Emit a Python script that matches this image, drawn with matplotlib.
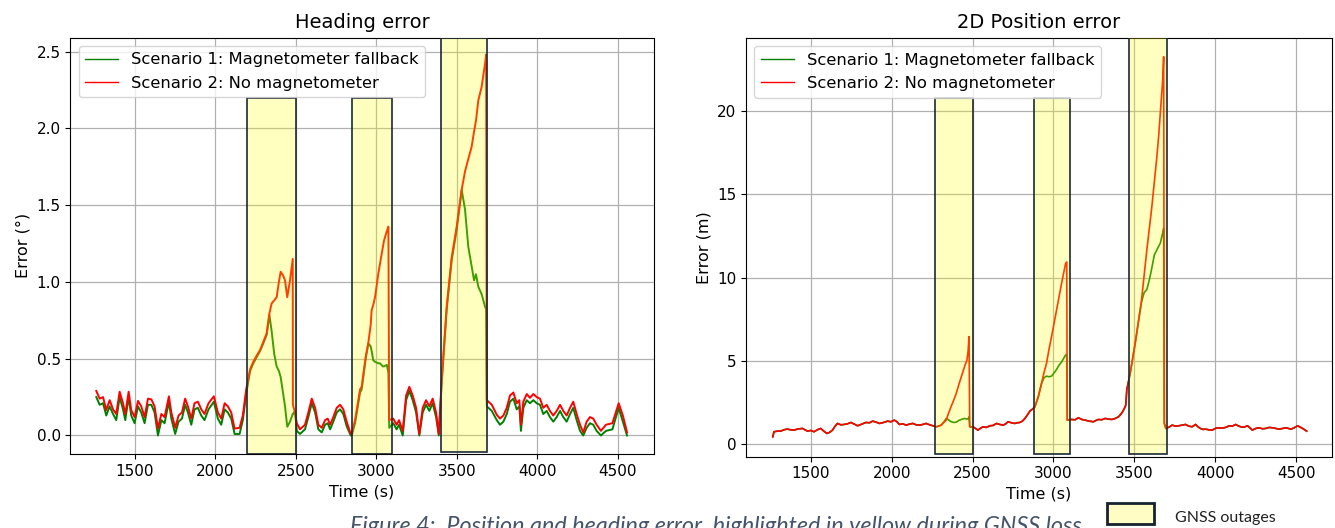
import numpy as np
import matplotlib
matplotlib.use("Agg")
import matplotlib.pyplot as plt
from matplotlib.patches import Rectangle
from matplotlib.lines import Line2D

# ---------------- Heading error (deg) ----------------
head_t = [
    1261, 1282, 1303, 1323, 1344, 1365, 1385, 1406, 1427, 1441, 1462, 1478, 1499, 1520, 1540,
    1561, 1582, 1603, 1623, 1644, 1665, 1685, 1712, 1727, 1751, 1772, 1793, 1813, 1830, 1851,
    1871, 1892, 1913, 1933, 1958, 1991, 2016, 2037, 2058, 2078, 2099, 2120, 2151, 2171, 2192,
    2216, 2236, 2257, 2278, 2298, 2319, 2336, 2350, 2366, 2381, 2395, 2406, 2422, 2433, 2447,
    2464, 2481, 2482, 2495, 2506, 2526, 2557, 2578, 2599, 2620, 2640, 2661, 2682, 2698, 2713,
    2733, 2754, 2775, 2795, 2816, 2841, 2847, 2868, 2878, 2899, 2909, 2934, 2950, 2965, 2971,
    2981, 2992, 3012, 3023, 3040, 3048, 3065, 3075, 3080, 3105, 3126, 3141, 3164, 3185, 3205,
    3226, 3247, 3267, 3288, 3309, 3329, 3350, 3371, 3388, 3406, 3437, 3468, 3499, 3530, 3551,
    3571, 3592, 3607, 3619, 3633, 3654, 3675, 3682, 3686, 3717, 3748, 3768, 3789, 3810, 3830,
    3851, 3872, 3888, 3898, 3913, 3934, 3954, 3975, 3996, 4016, 4037, 4058, 4078, 4099, 4120,
    4141, 4161, 4182, 4203, 4223, 4244, 4265, 4285, 4306, 4327, 4347, 4368, 4395, 4426, 4466,
    4505, 4531, 4557,
]
head_no_mag = [
    0.29, 0.24, 0.25, 0.165, 0.23, 0.17, 0.14, 0.285, 0.21, 0.14, 0.285, 0.165, 0.12, 0.225, 0.19,
    0.12, 0.24, 0.235, 0.19, 0.045, 0.14, 0.12, 0.255, 0.15, 0.05, 0.13, 0.15, 0.24, 0.19, 0.11,
    0.21, 0.22, 0.17, 0.14, 0.21, 0.255, 0.15, 0.11, 0.21, 0.19, 0.15, 0.045, 0.05, 0.13, 0.30,
    0.43, 0.48, 0.52, 0.556, 0.61, 0.665, 0.795, 0.86, 0.88, 0.90, 1.0, 1.066, 1.04, 1.01, 0.90,
    1.01, 1.15, 0.20, 0.15, 0.08, 0.04, 0.07, 0.15, 0.24, 0.18, 0.07, 0.05, 0.10, 0.11, 0.07,
    0.12, 0.18, 0.20, 0.17, 0.09, 0.01, 0.013, 0.10, 0.165, 0.30, 0.317, 0.512, 0.60, 0.72, 0.816,
    0.85, 0.90, 1.05, 1.12, 1.22, 1.27, 1.33, 1.36, 0.10, 0.11, 0.07, 0.10, 0.03, 0.26, 0.317,
    0.26, 0.18, 0.01, 0.18, 0.23, 0.19, 0.24, 0.15, 0.01, 0.36, 0.84, 1.16, 1.36, 1.60, 1.72,
    1.80, 1.88, 1.98, 2.05, 2.18, 2.27, 2.42, 2.48, 0.23, 0.20, 0.135, 0.11, 0.13, 0.18, 0.26,
    0.28, 0.21, 0.23, 0.07, 0.22, 0.27, 0.245, 0.27, 0.25, 0.24, 0.18, 0.20, 0.16, 0.13, 0.16,
    0.20, 0.16, 0.13, 0.18, 0.22, 0.14, 0.07, 0.02, 0.09, 0.12, 0.11, 0.07, 0.03, 0.07, 0.08,
    0.21, 0.13, 0.02,
]
head_mag_fallback = [
    0.25, 0.20, 0.21, 0.13, 0.19, 0.14, 0.10, 0.25, 0.17, 0.10, 0.25, 0.13, 0.08, 0.19, 0.15,
    0.08, 0.20, 0.20, 0.15, 0.00, 0.10, 0.08, 0.22, 0.11, 0.01, 0.09, 0.11, 0.20, 0.15, 0.07,
    0.17, 0.18, 0.13, 0.10, 0.17, 0.22, 0.11, 0.07, 0.17, 0.15, 0.11, 0.01, 0.01, 0.10, 0.27,
    0.42, 0.47, 0.51, 0.55, 0.60, 0.655, 0.785, 0.68, 0.53, 0.45, 0.42, 0.38, 0.27, 0.19, 0.057,
    0.09, 0.14, 0.14, 0.16, 0.03, 0.01, 0.04, 0.12, 0.21, 0.15, 0.04, 0.02, 0.07, 0.08, 0.04,
    0.09, 0.15, 0.17, 0.14, 0.06, 0.00, 0.00, 0.08, 0.145, 0.28, 0.30, 0.50, 0.60, 0.58, 0.55,
    0.49, 0.48, 0.47, 0.47, 0.45, 0.45, 0.46, 0.41, 0.05, 0.08, 0.04, 0.07, 0.00, 0.23, 0.29,
    0.23, 0.15, 0.00, 0.15, 0.20, 0.16, 0.21, 0.12, 0.00, 0.34, 0.82, 1.14, 1.34, 1.60, 1.47,
    1.23, 1.10, 1.01, 1.05, 0.97, 0.92, 0.84, 0.82, 0.19, 0.16, 0.10, 0.07, 0.09, 0.14, 0.22,
    0.24, 0.17, 0.19, 0.03, 0.18, 0.23, 0.21, 0.23, 0.21, 0.20, 0.14, 0.16, 0.12, 0.09, 0.12,
    0.16, 0.12, 0.09, 0.14, 0.18, 0.10, 0.03, 0.00, 0.05, 0.08, 0.07, 0.03, 0.00, 0.03, 0.04,
    0.18, 0.09, 0.00,
]
# GNSS outage boxes: (start, end, bottom, top)
head_outages = [(2200, 2500, -0.12, 2.20), (2850, 3100, -0.12, 2.20), (3400, 3690, -0.11, 2.59)]

# ---------------- 2D position error (m) ----------------
pos_t = [
    1265, 1272, 1293, 1313, 1334, 1354, 1375, 1396, 1420, 1448, 1479, 1500, 1520, 1540, 1561,
    1580, 1599, 1615, 1634, 1650, 1665, 1685, 1706, 1727, 1748, 1768, 1789, 1815, 1841, 1862,
    1882, 1903, 1924, 1950, 1975, 1995, 2016, 2030, 2047, 2068, 2089, 2110, 2130, 2151, 2172,
    2192, 2213, 2234, 2254, 2275, 2290, 2306, 2326, 2337, 2347, 2368, 2385, 2399, 2415, 2430,
    2450, 2465, 2472, 2478, 2482, 2503, 2518, 2533, 2550, 2565, 2585, 2606, 2627, 2647, 2668,
    2689, 2705, 2719, 2740, 2760, 2776, 2792, 2808, 2823, 2838, 2854, 2870, 2885, 2906, 2926,
    2941, 2957, 2972, 2988, 3004, 3019, 3035, 3050, 3063, 3075, 3082, 3085, 3112, 3133, 3154,
    3175, 3195, 3220, 3247, 3262, 3278, 3298, 3319, 3340, 3361, 3382, 3402, 3415, 3427, 3440,
    3447, 3453, 3464, 3474, 3490, 3505, 3524, 3542, 3560, 3577, 3593, 3608, 3624, 3639, 3650,
    3660, 3668, 3675, 3681, 3685, 3695, 3718, 3733, 3754, 3774, 3795, 3816, 3836, 3857, 3878,
    3893, 3908, 3925, 3939, 3960, 3981, 3996, 4012, 4033, 4054, 4070, 4085, 4106, 4126, 4141,
    4157, 4178, 4199, 4214, 4229, 4250, 4271, 4292, 4312, 4333, 4354, 4375, 4395, 4416, 4437,
    4452, 4468, 4488, 4509, 4525, 4540, 4555, 4565,
]
pos_no_mag = [
    0.46, 0.76, 0.80, 0.80, 0.88, 0.92, 0.88, 0.86, 0.93, 0.96, 0.80, 0.84, 0.76, 0.88, 0.96,
    0.80, 0.66, 0.72, 0.86, 1.10, 1.26, 1.18, 1.20, 1.24, 1.32, 1.22, 1.12, 1.22, 1.32, 1.30,
    1.40, 1.34, 1.26, 1.32, 1.40, 1.36, 1.46, 1.38, 1.20, 1.24, 1.16, 1.22, 1.26, 1.18, 1.16,
    1.20, 1.26, 1.18, 1.12, 1.06, 1.10, 1.16, 1.36, 1.46, 1.76, 2.30, 2.70, 3.07, 3.60, 4.06,
    4.67, 5.07, 5.60, 6.47, 1.06, 1.06, 0.96, 0.86, 0.98, 1.06, 1.02, 1.12, 1.14, 1.26, 1.20,
    1.16, 1.24, 1.36, 1.30, 1.26, 1.30, 1.32, 1.40, 1.56, 1.76, 2.00, 2.12, 2.26, 2.86, 3.66,
    4.30, 4.87, 5.70, 6.47, 7.30, 8.07, 8.90, 9.67, 10.30, 10.87, 10.95, 1.46, 1.50, 1.48, 1.60,
    1.50, 1.46, 1.40, 1.36, 1.44, 1.50, 1.48, 1.56, 1.52, 1.50, 1.56, 1.66, 1.80, 1.96, 2.20,
    2.36, 3.27, 3.80, 4.27, 5.20, 6.07, 7.30, 8.47, 10.10, 11.67, 13.00, 14.27, 15.80, 17.27, 18.50,
    19.87, 20.90, 21.87, 23.27, 1.26, 0.96, 1.06, 1.16, 1.10, 1.12, 1.16, 1.20, 1.10, 1.06, 1.20,
    1.06, 0.96, 0.90, 0.92, 0.88, 0.86, 0.94, 1.00, 0.98, 1.00, 1.04, 1.12, 1.10, 1.20, 1.12,
    1.06, 1.04, 1.12, 1.00, 0.86, 0.96, 1.00, 0.94, 0.96, 1.02, 1.00, 0.96, 0.92, 0.96, 1.00,
    0.96, 0.92, 1.00, 1.12, 1.04, 0.96, 0.86, 0.80,
]
pos_mag_fallback = [
    0.46, 0.76, 0.80, 0.80, 0.88, 0.92, 0.88, 0.86, 0.93, 0.96, 0.80, 0.84, 0.76, 0.88, 0.96,
    0.80, 0.66, 0.72, 0.86, 1.10, 1.26, 1.18, 1.20, 1.24, 1.32, 1.22, 1.12, 1.22, 1.32, 1.30,
    1.40, 1.34, 1.26, 1.32, 1.40, 1.36, 1.46, 1.38, 1.20, 1.24, 1.16, 1.22, 1.26, 1.18, 1.16,
    1.20, 1.26, 1.18, 1.12, 1.06, 1.10, 1.16, 1.40, 1.56, 1.50, 1.36, 1.32, 1.34, 1.44, 1.50,
    1.56, 1.52, 1.54, 1.66, 1.06, 1.06, 0.96, 0.86, 0.98, 1.06, 1.02, 1.12, 1.14, 1.26, 1.20,
    1.16, 1.24, 1.36, 1.30, 1.26, 1.30, 1.32, 1.40, 1.56, 1.76, 2.00, 2.12, 2.26, 2.86, 3.66,
    4.00, 4.10, 4.06, 4.10, 4.30, 4.50, 4.77, 4.95, 5.17, 5.37, 5.40, 1.46, 1.50, 1.48, 1.60,
    1.50, 1.46, 1.40, 1.36, 1.44, 1.50, 1.48, 1.56, 1.52, 1.50, 1.56, 1.66, 1.80, 1.96, 2.20,
    2.36, 3.27, 3.80, 4.27, 5.20, 6.07, 7.30, 8.47, 9.10, 9.30, 9.90, 10.60, 11.40, 11.67, 11.90,
    12.07, 12.40, 12.70, 12.97, 1.26, 0.96, 1.06, 1.16, 1.10, 1.12, 1.16, 1.20, 1.10, 1.06, 1.20,
    1.06, 0.96, 0.90, 0.92, 0.88, 0.86, 0.94, 1.00, 0.98, 1.00, 1.04, 1.12, 1.10, 1.20, 1.12,
    1.06, 1.04, 1.12, 1.00, 0.86, 0.96, 1.00, 0.94, 0.96, 1.02, 1.00, 0.96, 0.92, 0.96, 1.00,
    0.96, 0.92, 1.00, 1.12, 1.04, 0.96, 0.86, 0.80,
]
pos_outages = [(2270, 2500, -0.6, 20.77), (2880, 3100, -0.6, 20.77), (3465, 3700, -0.6, 24.45)]

label_fallback = "Scenario 1: Magnetometer fallback"
label_nomag = "Scenario 2: No magnetometer"

GREEN = "green"
RED = "red"
BOX_FACE = (1.0, 1.0, 0.0, 0.25)
BOX_EDGE = "#1b2a35"

fig = plt.figure(figsize=(13.35, 5.28), dpi=100)
ax1 = fig.add_axes([0.0527, 0.1403, 0.4369, 0.7883])
ax2 = fig.add_axes([0.5589, 0.1352, 0.4389, 0.7928])


def draw_panel(ax, t, fallback, nomag, outages, ylim, title, ylabel, yticks, lw):
    ax.plot(t, fallback, color=GREEN, lw=lw, zorder=2)
    ax.plot(t, nomag, color=RED, lw=lw, zorder=2.1)
    for x0, x1, y0, y1 in outages:
        ax.add_patch(Rectangle((x0, y0), x1 - x0, y1 - y0, facecolor=BOX_FACE,
                               edgecolor=BOX_EDGE, lw=1.2, zorder=3))
    ax.set_xlim(1100, 4722)
    ax.set_ylim(*ylim)
    ax.set_xticks([1500, 2000, 2500, 3000, 3500, 4000, 4500])
    ax.set_yticks(yticks)
    ax.tick_params(labelsize=11)
    ax.grid(True, color="#b0b0b0", lw=0.9)
    ax.set_axisbelow(True)
    ax.set_title(title, fontsize=14, pad=7)
    ax.set_xlabel("Time (s)", fontsize=11.5)
    ax.set_ylabel(ylabel, fontsize=11.5)
    handles = [Line2D([], [], color=GREEN, lw=1.0), Line2D([], [], color=RED, lw=1.0)]
    ax.legend(handles, [label_fallback, label_nomag], loc="upper left", fontsize=11.8)


draw_panel(ax1, head_t, head_mag_fallback, head_no_mag, head_outages, (-0.12, 2.59),
           "Heading error", "Error (°)", [0.0, 0.5, 1.0, 1.5, 2.0, 2.5], 1.4)
draw_panel(ax2, pos_t, pos_mag_fallback, pos_no_mag, pos_outages, (-0.73, 24.39),
           "2D Position error", "Error (m)", [0, 5, 10, 15, 20], 1.2)

# Caption and outage key below the panels
fig.text(350 / 1335, -5 / 528,
         "Figure 4:  Position and heading error, highlighted in yellow during GNSS loss",
         family="Lato", style="italic", fontsize=16.8, color="#44546A",
         ha="left", va="baseline")
fig.patches.append(Rectangle((1107 / 1335, 4 / 528), 47 / 1335, 21 / 528,
                             transform=fig.transFigure, facecolor="#fffcc4",
                             edgecolor="#14232e", lw=2.0))
fig.text(1175 / 1335, 10 / 528, "GNSS outages", family="Lato", fontsize=11.5,
         color="#222222", ha="left", va="center")

fig.savefig("out.png", dpi=100)
